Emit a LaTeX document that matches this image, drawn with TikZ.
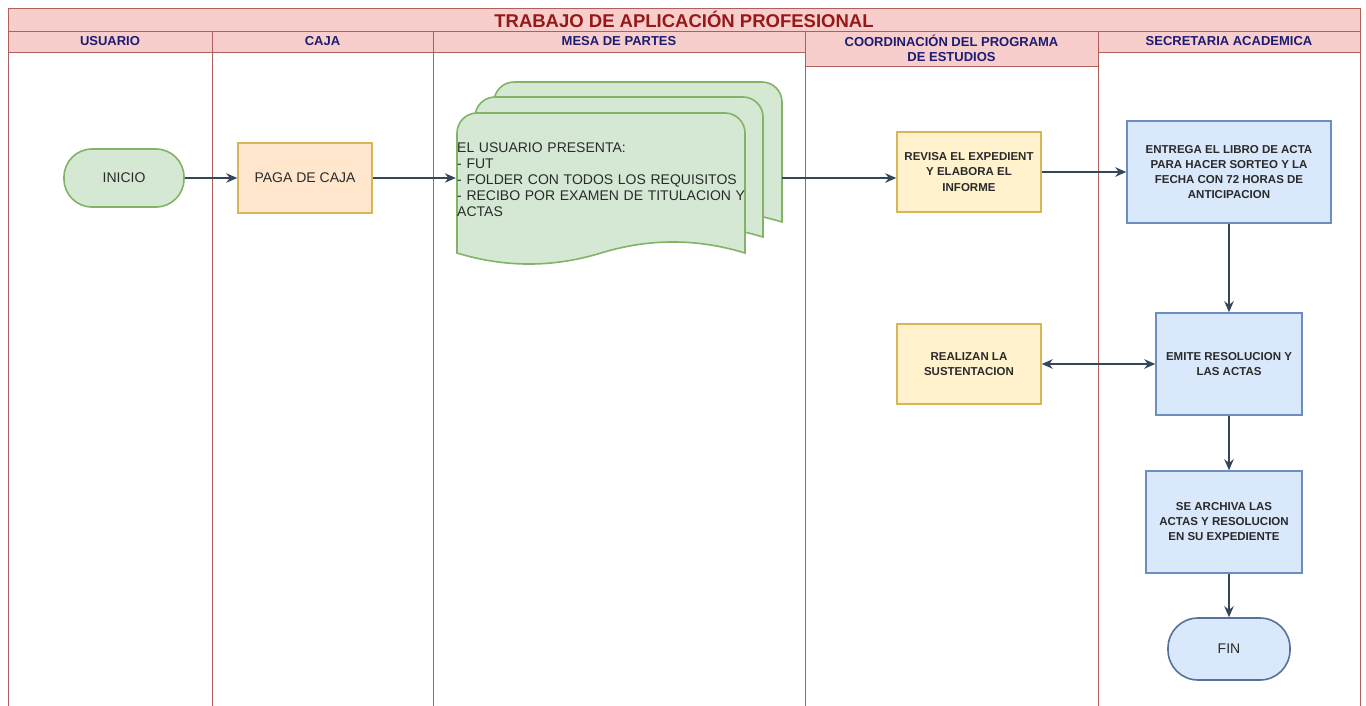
\documentclass[tikz,border=0pt]{standalone}
\usepackage{fontspec}
\setmainfont{Liberation Sans}
\usetikzlibrary{arrows.meta}
\definecolor{lanered}{HTML}{B0605C}
\definecolor{headfill}{HTML}{F8CECC}
\definecolor{headtext}{HTML}{1C1C72}
\definecolor{titletext}{HTML}{961818}
\definecolor{txt}{HTML}{2A2A2A}
\definecolor{grfill}{HTML}{D5E8D4}
\definecolor{grdraw}{HTML}{82B366}
\definecolor{orfill}{HTML}{FFE6CC}
\definecolor{ordraw}{HTML}{D6B656}
\definecolor{yefill}{HTML}{FFF2CC}
\definecolor{yedraw}{HTML}{D6B656}
\definecolor{blfill}{HTML}{DAE8FC}
\definecolor{bldraw}{HTML}{6C8EBF}
\definecolor{flowcol}{HTML}{34465A}
\tikzset{
  lanebody/.style={draw=lanered, line width=0.9pt, fill=white},
  lanehead/.style={draw=lanered, line width=0.9pt, fill=headfill, text=headtext,
    font=\fontsize{13}{15.5}\selectfont\bfseries, inner sep=0pt, align=center},
  termgreen/.style={rectangle, rounded corners=28pt, draw=grdraw, fill=grfill, line width=1.6pt,
    font=\fontsize{14}{16}\selectfont, text=txt, inner sep=0pt, minimum width=120pt, minimum height=58pt},
  termblue/.style={rectangle, rounded corners=30pt, draw=bldraw!80!black, fill=blfill, line width=1.6pt,
    font=\fontsize{14}{16}\selectfont, text=txt, inner sep=0pt, minimum width=122pt, minimum height=62pt},
  orbox/.style={rectangle, draw=ordraw, fill=orfill, line width=1.5pt,
    font=\fontsize{14}{16}\selectfont, text=txt, inner sep=0pt, align=center},
  yebox/.style={rectangle, draw=yedraw, fill=yefill, line width=1.5pt,
    font=\fontsize{11.5}{15.5}\selectfont\bfseries, text=txt, inner sep=0pt, align=center},
  blbox/.style={rectangle, draw=bldraw, fill=blfill, line width=1.5pt,
    font=\fontsize{11.5}{15}\selectfont\bfseries, text=txt, inner sep=0pt, align=center},
  docpaper/.style={draw=grdraw, fill=grfill, line width=1.6pt},
  flow/.style={draw=flowcol, line width=1.5pt, -{Stealth[length=11pt,width=9.5pt]}},
  flowboth/.style={draw=flowcol, line width=1.5pt, {Stealth[length=11pt,width=9.5pt]}-{Stealth[length=11pt,width=9.5pt]}},
}
\newcommand{\docpath}{(0,140) -- (0,20) .. controls (0,9) and (9,0) .. (20,0) -- (268,0)
  .. controls (279,0) and (288,9) .. (288,20) -- (288,140)
  .. controls (240,125.3) and (192,125.3) .. (144,140)
  .. controls (96,154.7) and (48,154.7) .. (0,140) -- cycle}
\begin{document}
\begin{tikzpicture}[x=1pt,y=-1pt]
\useasboundingbox (0,0) rectangle (1366,705);
\clip (0,0) rectangle (1366,705);
% lanes bodies
\draw[lanebody] (8,52) rectangle (212,720);
\draw[lanebody] (212,52) rectangle (433,720);
\draw[lanebody] (433,52) rectangle (805,720);
\draw[lanebody] (805,66) rectangle (1098,720);
\draw[lanebody] (1098,52) rectangle (1360,720);
% title band
\node[lanehead, minimum width=1352pt, minimum height=23pt, text=titletext,
  font=\fontsize{18.5}{20}\selectfont\bfseries] (title) at (684,19.5) {TRABAJO DE APLICACIÓN PROFESIONAL};
% lane headers
\node[lanehead, minimum width=204pt, minimum height=21pt] (h1) at (110,41.5) {USUARIO};
\node[lanehead, minimum width=221pt, minimum height=21pt] (h2) at (322.5,41.5) {CAJA};
\node[lanehead, minimum width=372pt, minimum height=21pt] (h3) at (619,41.5) {MESA DE PARTES};
\node[lanehead, minimum width=293pt, minimum height=35pt] (h4) at (951.5,48.5) {COORDINACIÓN DEL PROGRAMA\\DE ESTUDIOS};
\node[lanehead, minimum width=262pt, minimum height=21pt] (h5) at (1229,41.5) {SECRETARIA ACADEMICA};
% documents
\begin{scope}[shift={(494,82)}]
  \draw[docpaper] \docpath;
\end{scope}
\begin{scope}[shift={(475,97)}]
  \draw[docpaper] \docpath;
\end{scope}
\begin{scope}[shift={(457,113)}]
  \draw[docpaper] \docpath;
\end{scope}
\node[minimum width=326pt, minimum height=150pt, inner sep=0pt] (docbox) at (619,178) {};
\node[anchor=west, text width=290pt, align=left, inner sep=0pt, text=txt,
  font=\fontsize{14}{16}\selectfont] (doctext) at (457,180)
  {EL USUARIO PRESENTA:\\- FUT\\- FOLDER CON TODOS LOS REQUISITOS\\- RECIBO POR EXAMEN DE TITULACION Y ACTAS};
% nodes
\node[termgreen] (inicio) at (124,178) {INICIO};
\node[orbox, minimum width=134pt, minimum height=70pt] (paga) at (305,178) {PAGA DE CAJA};
\node[yebox, minimum width=144pt, minimum height=80pt] (revisa) at (969,172) {REVISA EL EXPEDIENT\\Y ELABORA EL\\INFORME};
\node[blbox, minimum width=204pt, minimum height=102pt] (entrega) at (1229,172) {ENTREGA EL LIBRO DE ACTA\\PARA HACER SORTEO Y LA\\FECHA CON 72 HORAS DE\\ANTICIPACION};
\node[yebox, minimum width=144pt, minimum height=80pt] (realizan) at (969,364) {REALIZAN LA\\SUSTENTACION};
\node[blbox, minimum width=146pt, minimum height=102pt] (emite) at (1229,364) {EMITE RESOLUCION Y\\LAS ACTAS};
\node[blbox, minimum width=156pt, minimum height=102pt] (archiva) at (1224,522) {SE ARCHIVA LAS\\ACTAS Y RESOLUCION\\EN SU EXPEDIENTE};
\node[termblue] (fin) at (1229,649) {FIN};
% connectors
\draw[flow] (inicio.east) -- (paga.west);
\draw[flow] (paga.east) -- (paga.east -| docbox.west);
\draw[flow] (docbox.east) -- (docbox.east -| revisa.west);
\draw[flow] (revisa.east) -- (revisa.east -| entrega.west);
\draw[flow] (entrega.south) -- (entrega.south |- emite.north);
\draw[flowboth] (emite.west) -- (emite.west -| realizan.east);
\draw[flow] (emite.south -| fin.north) -- (fin.north |- archiva.north);
\draw[flow] (fin.north |- archiva.south) -- (fin.north);
\end{tikzpicture}
\end{document}
